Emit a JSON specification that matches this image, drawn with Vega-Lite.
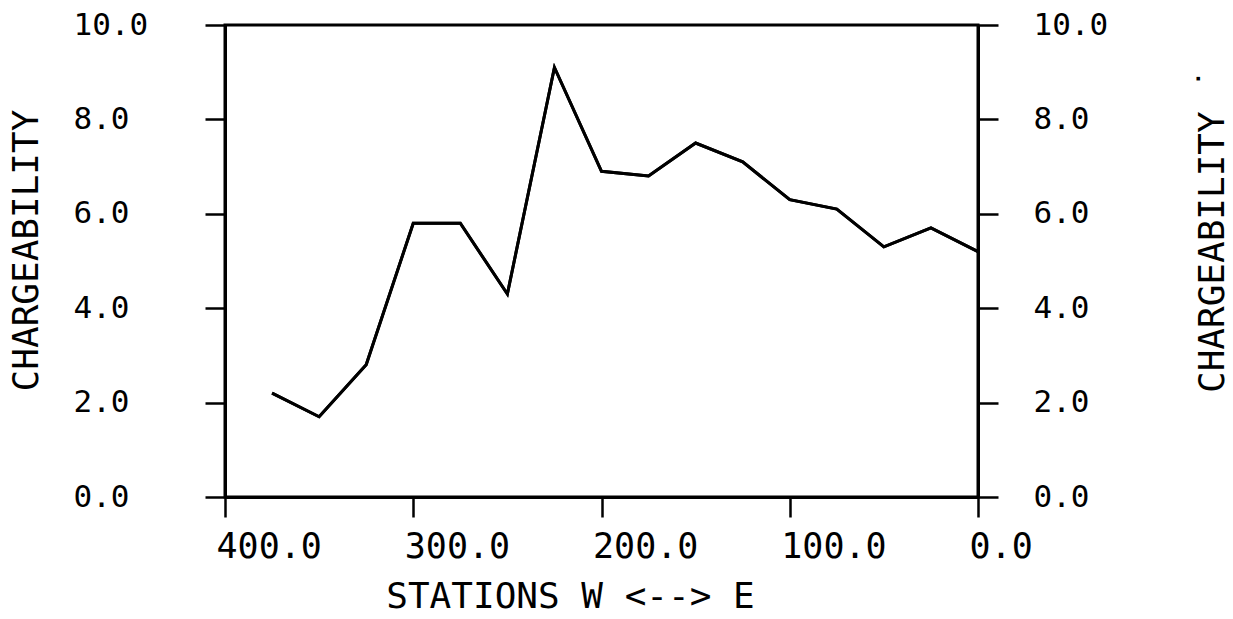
{
  "$schema": "https://vega.github.io/schema/vega-lite/v6.json",
  "width": 753,
  "height": 472,
  "autosize": "none",
  "padding": {"left": 225, "top": 25, "right": 255, "bottom": 122},
  "background": "white",
  "config": {
    "view": {"stroke": "black", "strokeWidth": 3},
    "font": "DejaVu Sans Mono",
    "axis": {
      "grid": false,
      "domainColor": "black",
      "domainWidth": 3,
      "tickColor": "black",
      "tickWidth": 2.5,
      "tickSize": 20,
      "labelColor": "black",
      "titleColor": "black",
      "labelFont": "DejaVu Sans Mono",
      "titleFont": "DejaVu Sans Mono",
      "titleFontWeight": "normal",
      "labelOverlap": false,
      "labelFlush": false
    }
  },
  "data": {
    "values": [
      {"station": 375, "chargeability": 2.2},
      {"station": 350, "chargeability": 1.7},
      {"station": 325, "chargeability": 2.8},
      {"station": 300, "chargeability": 5.8},
      {"station": 275, "chargeability": 5.8},
      {"station": 250, "chargeability": 4.3},
      {"station": 225, "chargeability": 9.1},
      {"station": 200, "chargeability": 6.9},
      {"station": 175, "chargeability": 6.8},
      {"station": 150, "chargeability": 7.5},
      {"station": 125, "chargeability": 7.1},
      {"station": 100, "chargeability": 6.3},
      {"station": 75, "chargeability": 6.1},
      {"station": 50, "chargeability": 5.3},
      {"station": 25, "chargeability": 5.7},
      {"station": 0, "chargeability": 5.2}
    ]
  },
  "layer": [
    {
      "mark": {"type": "line", "color": "black", "strokeWidth": 3},
      "encoding": {
        "x": {
          "field": "station",
          "type": "quantitative",
          "scale": {"domain": [0, 400], "reverse": true, "nice": false, "zero": false},
          "axis": {
            "values": [400, 300, 200, 100, 0],
            "format": ".1f",
            "labelAlign": "left",
            "labelOffset": -9,
            "labelPadding": 12,
            "labelFontSize": 35,
            "title": "STATIONS W <--> E",
            "titleFontSize": 36,
            "titleX": 345,
            "titleY": 110,
            "titleAlign": "center",
            "titleBaseline": "alphabetic"
          }
        },
        "y": {
          "field": "chargeability",
          "type": "quantitative",
          "scale": {"domain": [0, 10], "nice": false},
          "axis": {
            "orient": "left",
            "values": [0, 2, 4, 6, 8, 10],
            "format": ".1f",
            "labelAlign": "left",
            "labelBaseline": "middle",
            "labelPadding": 132,
            "labelFontSize": 31,
            "title": "CHARGEABILITY",
            "titleFontSize": 36,
            "titleAngle": 270,
            "titleX": -188,
            "titleY": 225,
            "titleAlign": "center",
            "titleBaseline": "alphabetic"
          }
        }
      }
    },
    {
      "mark": {"type": "line", "color": "black", "strokeWidth": 3},
      "encoding": {
        "x": {"field": "station", "type": "quantitative"},
        "y": {
          "field": "chargeability",
          "type": "quantitative",
          "axis": {
            "orient": "right",
            "values": [0, 2, 4, 6, 8, 10],
            "format": ".1f",
            "labelAlign": "left",
            "labelBaseline": "middle",
            "labelPadding": 35,
            "labelFontSize": 31,
            "title": "CHARGEABILITY ˙",
            "titleFontSize": 36,
            "titleAngle": 270,
            "titleX": 245,
            "titleY": 205,
            "titleAlign": "center",
            "titleBaseline": "alphabetic"
          }
        }
      }
    }
  ],
  "resolve": {"axis": {"y": "independent"}}
}
